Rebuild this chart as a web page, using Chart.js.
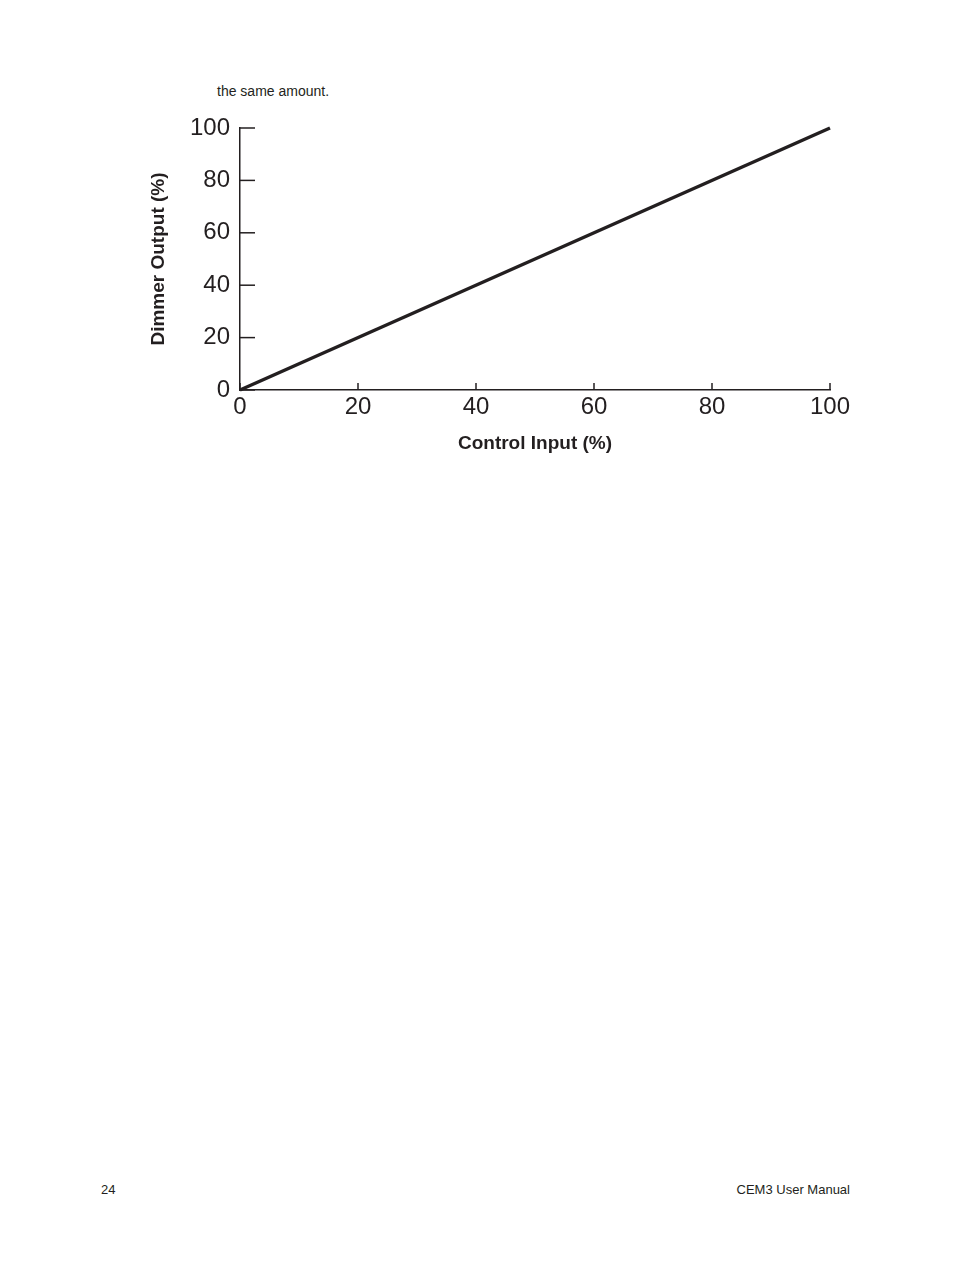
<!DOCTYPE html>
<html>
<head>
<meta charset="utf-8">
<script src="https://cdn.jsdelivr.net/npm/chart.js@4.4.0/dist/chart.umd.min.js"></script>
<style>
  html, body { margin: 0; padding: 0; background: #fff; }
  body { width: 954px; height: 1272px; position: relative; overflow: hidden; font-family: "Liberation Sans", Arial, sans-serif; color: #231f20; }
  #wrap { position: absolute; left: 0; top: 0; width: 954px; height: 480px; }
  .txt { position: absolute; white-space: nowrap; }
</style>
</head>
<body>
<div class="txt" style="left:217px; top:83px; font-size:14px;">the same amount.</div>
<div id="wrap"><canvas id="c"></canvas></div>
<div class="txt" style="left:101px; top:1182px; font-size:13px;">24</div>
<div class="txt" style="right:104px; top:1182px; font-size:13px;">CEM3 User Manual</div>
<script>
const controlInput = [0, 100];
const dimmerOutput = [0, 100];
const xTicks = [0, 20, 40, 60, 80, 100];
const yTicks = [0, 20, 40, 60, 80, 100];

const ink = '#231f20';

const inwardTicks = {
  id: 'inwardTicks',
  afterDraw(chart) {
    const ctx = chart.ctx;
    const xs = chart.scales.x, ys = chart.scales.y;
    ctx.save();
    ctx.strokeStyle = ink;
    ctx.lineWidth = 1.5;
    yTicks.forEach(v => {
      const py = ys.getPixelForValue(v);
      ctx.beginPath();
      ctx.moveTo(xs.left, py);
      ctx.lineTo(xs.left + 15, py);
      ctx.stroke();
    });
    xTicks.forEach(v => {
      const px = xs.getPixelForValue(v);
      ctx.beginPath();
      ctx.moveTo(px, ys.bottom);
      ctx.lineTo(px, ys.bottom - 7);
      ctx.stroke();
    });
    ctx.restore();
  }
};

new Chart(document.getElementById('c'), {
  type: 'scatter',
  data: {
    datasets: [{
      data: controlInput.map((x, i) => ({ x: x, y: dimmerOutput[i] })),
      showLine: true,
      borderColor: ink,
      borderWidth: 3.5,
      pointRadius: 0,
      clip: false
    }]
  },
  options: {
    responsive: true,
    maintainAspectRatio: false,
    animation: false,
    layout: { padding: { left: 0, top: 128, right: 124, bottom: 0 } },
    plugins: { legend: { display: false }, tooltip: { enabled: false } },
    scales: {
      x: {
        type: 'linear', min: 0, max: 100,
        afterBuildTicks: s => { s.ticks = xTicks.map(v => ({ value: v })); },
        afterFit: s => { s.height = 90; },
        grid: { display: false, drawTicks: false },
        border: { display: true, color: ink, width: 1.5 },
        ticks: { color: ink, padding: 3, font: { family: '"Liberation Sans", Arial, sans-serif', size: 24 }, maxRotation: 0 },
        title: { display: true, text: 'Control Input (%)', color: ink, padding: { top: 0, bottom: 24.6 },
                 font: { family: '"Liberation Sans", Arial, sans-serif', size: 19, weight: 'bold' } }
      },
      y: {
        type: 'linear', min: 0, max: 100,
        afterBuildTicks: s => { s.ticks = yTicks.map(v => ({ value: v })); },
        afterFit: s => { s.width = 240; },
        grid: { display: false, drawTicks: false },
        border: { display: true, color: ink, width: 1.5 },
        ticks: { color: ink, padding: 10, font: { family: '"Liberation Sans", Arial, sans-serif', size: 24 } },
        title: { display: true, text: 'Dimmer Output (%)', color: ink, padding: { top: 147.6, bottom: 0 },
                 font: { family: '"Liberation Sans", Arial, sans-serif', size: 19, weight: 'bold' } }
      }
    }
  },
  plugins: [inwardTicks]
});
</script>
</body>
</html>
